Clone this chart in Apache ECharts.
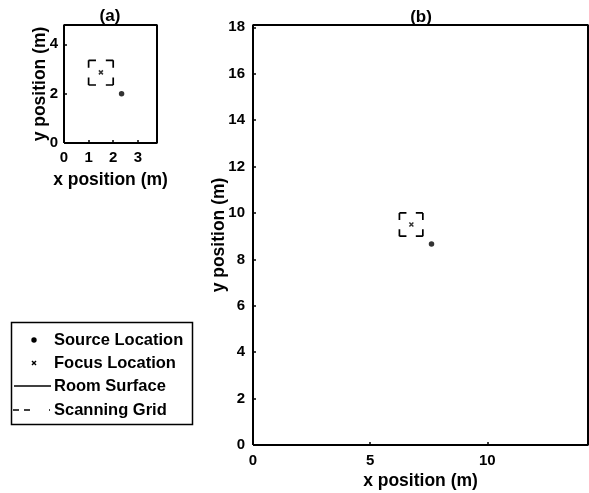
<!DOCTYPE html>
<html><head><meta charset="utf-8">
<script src="https://cdn.jsdelivr.net/npm/echarts@6/dist/echarts.min.js"></script>
<style>html,body{margin:0;padding:0;background:#fff}#c{width:589px;height:493px}</style>
</head><body><div id="c"></div>
<script>
// ---- data (metres) ----
const roomA = [3.78, 4.78];          // room width, depth for panel (a)
const roomB = [14.3, 18.1];          // room width, depth for panel (b)
const sourceA = [2.34, 1.99];
const focusA = [1.5, 2.86];
const scanGridA = [1.0, 2.35, 1.0];  // x0, y0, side
const sourceB = [7.62, 8.66];
const focusB = [6.76, 9.5];
const scanGridB = [6.25, 9.0, 1.0];
const xIntervalA = 1, yIntervalA = 2;
const xIntervalB = 5, yIntervalB = 2;
const titles = ['(a)', '(b)'];
const xName = 'x position (m)';
const yName = 'y position (m)';
const legendNames = ['Source Location', 'Focus Location', 'Room Surface', 'Scanning Grid'];

const FF = '"Liberation Sans", Arial, sans-serif';
const chart = echarts.init(document.getElementById('c'), null, {renderer: 'canvas'});

function axis(gi, max, interval, name, gap, margin) {
  return {
    type: 'value', gridIndex: gi, min: 0, max: max, interval: interval,
    name: name, nameLocation: 'middle', nameGap: gap, nameMoveOverlap: false,
    nameTextStyle: {fontFamily: FF, fontWeight: 'bold', fontSize: 17.5, color: '#000'},
    axisLine: {show: false},
    axisTick: {show: true, inside: true, length: 3, lineStyle: {color: '#000', width: 1.5}},
    axisLabel: {
      fontFamily: FF, fontWeight: 'bold', fontSize: 15, color: '#000', margin: margin,
      formatter: v => Math.abs(v / interval - Math.round(v / interval)) < 1e-6 ? String(Math.round(v)) : ''
    },
    splitLine: {show: false}
  };
}

function roomPath(r) { return [[0, 0], [r[0], 0], [r[0], r[1]], [0, r[1]], [0, 0]]; }

function scanRender(params, api) {
  const x0 = api.value(0), y0 = api.value(1), s = api.value(2);
  const a = api.coord([x0, y0]), b = api.coord([x0 + s, y0 + s]);
  const c = [[a[0], b[1]], [b[0], b[1]], [b[0], a[1]], [a[0], a[1]]];
  const children = [];
  for (let i = 0; i < 4; i++) {
    const p = c[i], q = c[(i + 1) % 4];
    const len = Math.hypot(q[0] - p[0], q[1] - p[1]);
    const d = len * 0.3;
    children.push({
      type: 'line',
      shape: {x1: p[0], y1: p[1], x2: q[0], y2: q[1]},
      style: {stroke: '#000', lineWidth: 1.7, lineDash: [d, len - 2 * d], fill: null}
    });
  }
  return {type: 'group', children: children};
}

const xMark = 'path://M0,0L10,10M0,10L10,0';

function panelSeries(i, room, src, foc, sg) {
  return [
    {type: 'line', name: 'Room Surface', xAxisIndex: i, yAxisIndex: i, data: roomPath(room),
     showSymbol: false, symbol: 'none', clip: false, lineStyle: {color: '#000', width: 2}, z: 5, silent: true},
    {type: 'custom', name: 'Scanning Grid', xAxisIndex: i, yAxisIndex: i, data: [sg], renderItem: scanRender, z: 3},
    {type: 'scatter', name: 'Source Location', xAxisIndex: i, yAxisIndex: i, data: [src],
     symbol: 'circle', symbolSize: 5.5, itemStyle: {color: '#000'}, z: 4},
    {type: 'scatter', name: 'Focus Location', xAxisIndex: i, yAxisIndex: i, data: [foc],
     symbol: xMark, symbolSize: 4, itemStyle: {color: 'none', borderColor: '#000', borderWidth: 1.5}, z: 4}
  ];
}

const legendY = [340, 363, 386, 410];
const graphics = [
  {type: 'text', x: 110, y: 16, style: {text: titles[0], font: 'bold 17px ' + FF, fill: '#000', align: 'center', verticalAlign: 'middle'}},
  {type: 'text', x: 421, y: 17, style: {text: titles[1], font: 'bold 17px ' + FF, fill: '#000', align: 'center', verticalAlign: 'middle'}},
  {type: 'rect', shape: {x: 11.5, y: 322.5, width: 181, height: 102}, style: {fill: '#fff', stroke: '#000', lineWidth: 1.5}, z: 10},
  {type: 'circle', shape: {cx: 34, cy: legendY[0], r: 2.7}, style: {fill: '#000'}, z: 11},
  {type: 'polyline', shape: {points: [[32, legendY[1] - 2], [36, legendY[1] + 2]]}, style: {stroke: '#000', lineWidth: 1.5}, z: 11},
  {type: 'polyline', shape: {points: [[32, legendY[1] + 2], [36, legendY[1] - 2]]}, style: {stroke: '#000', lineWidth: 1.5}, z: 11},
  {type: 'line', shape: {x1: 14, y1: legendY[2], x2: 51, y2: legendY[2]}, style: {stroke: '#000', lineWidth: 1.7}, z: 11},
  {type: 'line', shape: {x1: 13, y1: legendY[3], x2: 51, y2: legendY[3]}, style: {stroke: '#000', lineWidth: 1.7, lineDash: [6, 5, 6, 19, 1, 20]}, z: 11}
];
legendNames.forEach((n, k) => graphics.push({
  type: 'text', x: 54, y: legendY[k], z: 11,
  style: {text: n, font: 'bold 16.5px ' + FF, fill: '#000', verticalAlign: 'middle', align: 'left'}
}));

chart.setOption({
  animation: false,
  backgroundColor: '#fff',
  grid: [
    {left: 64, top: 25, width: 93, height: 118, outerBoundsMode: 'none', containLabel: false},
    {left: 253, top: 25, width: 335, height: 420, outerBoundsMode: 'none', containLabel: false}
  ],
  xAxis: [axis(0, roomA[0], xIntervalA, xName, 28, 7), axis(1, roomB[0], xIntervalB, xName, 27, 8)],
  yAxis: [axis(0, roomA[1], yIntervalA, yName, 15, 6), axis(1, roomB[1], yIntervalB, yName, 25, 8)],
  series: [].concat(
    panelSeries(0, roomA, sourceA, focusA, scanGridA),
    panelSeries(1, roomB, sourceB, focusB, scanGridB)
  ),
  graphic: graphics
});
</script></body></html>
